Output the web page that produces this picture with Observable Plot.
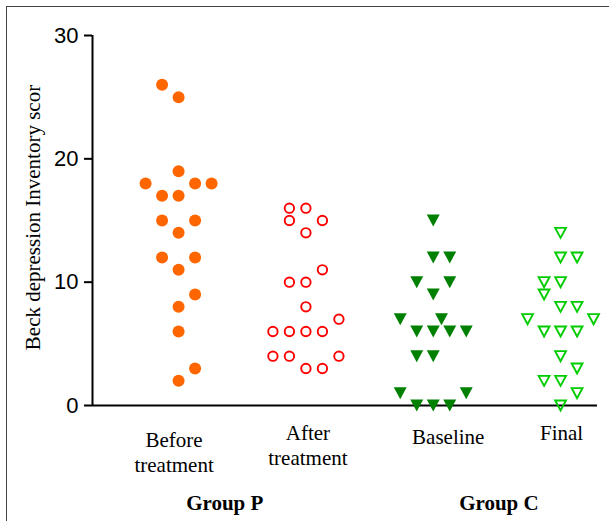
<!DOCTYPE html>
<html>
<head>
<meta charset="utf-8">
<script src="https://cdn.jsdelivr.net/npm/d3@7"></script>
<script src="https://cdn.jsdelivr.net/npm/@observablehq/plot@0.6"></script>
<style>
  html, body { margin: 0; padding: 0; background: #fff; }
  body { position: relative; width: 609px; height: 521px; overflow: hidden; }
  #frame { position: absolute; left: 6px; top: 6px; right: 0; bottom: 0;
           border-left: 1.5px solid #444; border-top: 1.5px solid #444; }
  #chart { position: absolute; left: 0; top: 0; }
</style>
</head>
<body>
<div id="frame"></div>
<div id="chart"></div>
<script>
// ---- data ----
const categories = ["Before\ntreatment", "After\ntreatment", "Baseline", "Final"];
const groups = ["Group P", "Group C"];
const yLabel = "Beck depression Inventory scor";
const yTicks = [0, 10, 20, 30];

// scores per condition, with the scatter column slot each point sits in
const beforeValues = [26, 25, 19, 18, 18, 18, 17, 17, 15, 15, 14, 12, 12, 11, 9, 8, 6, 3, 2];
const beforeSlots  = [-1, 0, 0, -2, 1, 2, -1, 0, -1, 1, 0, -1, 1, 0, 1, 0, 0, 1, 0];
const afterValues  = [16, 16, 15, 15, 14, 11, 10, 10, 8, 7, 6, 6, 6, 6, 4, 4, 4, 3, 3];
const afterSlots   = [-1, 0, -1, 1, 0, 1, -1, 0, 0, 2, -2, -1, 0, 1, -2, -1, 2, 0, 1];
const baselineValues = [15, 12, 12, 10, 10, 9, 7, 7, 6, 6, 6, 6, 4, 4, 1, 1, 0, 0, 0];
const baselineSlots  = [0, 0, 1, -1, 1, 0, -2, 0.5, -1, 0, 1, 2, -1, 0, -2, 2, -1, 0, 1];
const finalValues  = [14, 12, 12, 10, 10, 9, 8, 8, 7, 7, 6, 6, 6, 4, 3, 2, 2, 1, 0];
const finalSlots   = [0, 0, 1, -1, 0, -1, 0, 1, -2, 2, -1, 0, 1, 0, 1, -1, 0, 1, 0];

const rows = (cat, values, slots) => values.map((v, i) => ({cat, value: v, slot: slots[i]}));
const before = rows(0, beforeValues, beforeSlots);
const after = rows(1, afterValues, afterSlots);
const baseline = rows(2, baselineValues, baselineSlots);
const final = rows(3, finalValues, finalSlots);

const slotWidth = 0.1296;
const px = d => d.cat + d.slot * slotWidth;

const invTriangle = {
  draw(ctx, size) {
    const r = Math.sqrt(size / Math.PI);
    const w = r * 1.08;
    ctx.moveTo(-w, -r);
    ctx.lineTo(w, -r);
    ctx.lineTo(0, r);
    ctx.closePath();
  }
};

const serif = "'Liberation Serif', 'Times New Roman', serif";
const sans = "'Liberation Sans', Arial, sans-serif";
const xDomain = [-0.676, 3.29];

const catLabel = (i, dx, dy) => Plot.text([categories[i]], {
  x: () => i, y: () => 0, text: d => d, dx, dy,
  fontFamily: serif, fontSize: 21, lineHeight: 1.2, fill: "black",
  textAnchor: "middle", lineAnchor: "middle"
});
const groupLabel = (i, xpos, dx) => Plot.text([groups[i]], {
  x: () => xpos, y: () => 0, text: d => d, dx, dy: 98,
  fontFamily: serif, fontSize: 21, fontWeight: "bold", fill: "black",
  textAnchor: "middle", lineAnchor: "middle"
});

const chart = Plot.plot({
  width: 609,
  height: 521,
  marginLeft: 92,
  marginRight: 12,
  marginTop: 35,
  marginBottom: 116,
  style: {background: "transparent", overflow: "visible"},
  x: {type: "linear", domain: xDomain, axis: null},
  y: {domain: [0, 30], axis: null},
  marks: [
    Plot.axisY({ticks: yTicks, tickSize: 8, tickPadding: 6, fontSize: 22,
      fontFamily: sans, strokeWidth: 2, label: null, color: "black"}),
    Plot.ruleX([xDomain[0]], {y1: 0, y2: 30, stroke: "black", strokeWidth: 2}),
    Plot.ruleY([0], {stroke: "black", strokeWidth: 2}),
    Plot.text([yLabel], {frameAnchor: "left", dx: -59, dy: -3, rotate: -90,
      text: d => d, fontFamily: serif, fontSize: 21, fill: "black",
      textAnchor: "middle", lineAnchor: "middle"}),
    Plot.dot(before, {x: px, y: "value", r: 6, fill: "#ff6600", stroke: "none"}),
    Plot.dot(after, {x: px, y: "value", r: 4.7, fill: "none", stroke: "#ff0000", strokeWidth: 1.9}),
    Plot.dot(baseline, {x: px, y: "value", r: 6, symbol: invTriangle, fill: "#008000", stroke: "none"}),
    Plot.dot(final, {x: px, y: "value", r: 5, symbol: invTriangle, fill: "none", stroke: "#00cc00", strokeWidth: 1.9}),
    catLabel(0, -4.5, 46),
    catLabel(1, 2, 39),
    catLabel(2, 15, 30),
    catLabel(3, 1, 26.5),
    groupLabel(0, 0.5, -17.5),
    groupLabel(1, 2.5, 2)
  ]
});
document.getElementById("chart").append(chart);
</script>
</body>
</html>
